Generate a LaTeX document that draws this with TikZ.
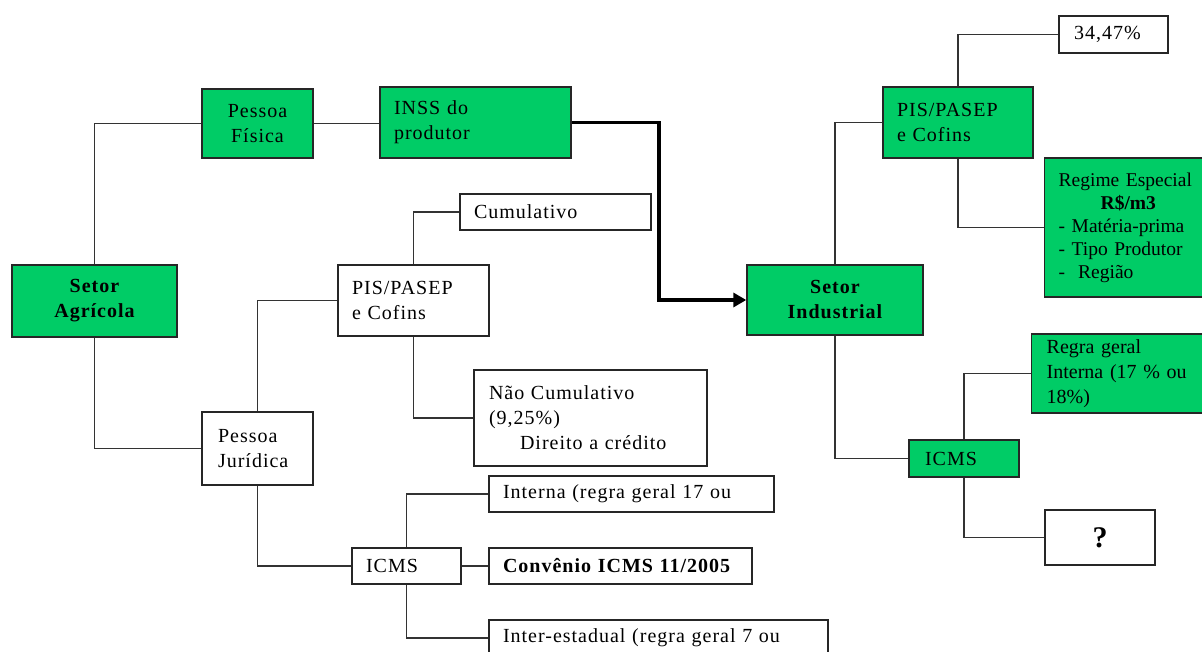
\documentclass[tikz,border=0pt]{standalone}
\usepackage{fontspec}
\setmainfont{Liberation Serif}[LetterSpace=5]
\usetikzlibrary{arrows.meta}
\definecolor{boxgreen}{RGB}{0,204,102}
\newcommand\boxfont{\fontsize{20}{25}\selectfont}
\begin{document}
\begin{tikzpicture}[x=1pt,y=-1pt,
  box/.style={draw=black!85, line width=1.4pt, font=\boxfont, inner ysep=0pt},
  gbox/.style={box, fill=boxgreen},
  wbox/.style={box, fill=white},
  link/.style={draw=black!80, line width=1.5pt},
  flow/.style={draw=black, line width=3.5pt, -{Triangle[length=13pt,width=14pt]}}]
\useasboundingbox (0,0) rectangle (1202,652);
\clip (0,0) rectangle (1202,652);
\fill[white] (0,0) rectangle (1202,652);

% left part
\node[gbox, minimum width=165pt, minimum height=72pt, align=center, font=\boxfont\bfseries] (agri) at (94.5,301) {Setor\\Agrícola};
\node[gbox, minimum width=111pt, minimum height=69pt, align=center] (pf) at (257.5,123.5) {Pessoa\\Física};
\node[gbox, minimum width=191pt, minimum height=71pt, text width=163pt, inner xsep=14pt, align=left] (inss) at (475.5,122.5) {INSS do\\produtor};
\node[wbox, minimum width=191pt, minimum height=36pt, text width=163pt, inner xsep=14pt, align=left] (cum) at (555.5,212) {Cumulativo};
\node[wbox, minimum width=151pt, minimum height=71pt, text width=123pt, inner xsep=14pt, align=left] (pisL) at (413.5,300.5) {PIS/PASEP\\e Cofins};
\node[wbox, minimum width=233pt, minimum height=96pt, text width=203pt, inner xsep=15pt, align=left] (nao) at (590.5,418) {Não Cumulativo\\(9,25\%)\\\hspace*{31pt}Direito a crédito};
\node[wbox, minimum width=111pt, minimum height=73pt, text width=79pt, inner xsep=16pt, align=left] (pj) at (257.5,448.5) {Pessoa\\Jurídica};
\node[wbox, minimum width=109pt, minimum height=36pt, text width=81pt, inner xsep=14pt, align=left] (icmsL) at (406.5,566) {ICMS};
\node[wbox, minimum width=285pt, minimum height=36pt, text width=257pt, inner xsep=14pt, align=left] (interna) at (631.5,494) {Interna (regra geral 17 ou};
\node[wbox, minimum width=263pt, minimum height=36pt, text width=235pt, inner xsep=14pt, align=left, font=\boxfont\bfseries] (conv) at (620.5,566) {Convênio ICMS 11/2005};
\node[wbox, minimum width=339pt, minimum height=36pt, text width=311pt, inner xsep=14pt, align=left] (inter) at (658.5,638) {Inter-estadual (regra geral 7 ou};

% right part
\node[gbox, minimum width=176pt, minimum height=70pt, align=center, font=\boxfont\bfseries] (indu) at (835,300) {Setor\\Industrial};
\node[gbox, minimum width=150pt, minimum height=71pt, text width=122pt, inner xsep=14pt, align=left] (pisR) at (958,122.5) {PIS/PASEP\\e Cofins};
\node[wbox, minimum width=109pt, minimum height=37pt, text width=79pt, inner xsep=15pt, align=left] (pct) at (1113.5,34.5) {34,47\%};
\node[gbox, anchor=west, minimum height=139pt, text width=170pt, inner xsep=14pt, align=left, font=\fontsize{19.5}{23}\selectfont\addfontfeature{LetterSpace=0}] (reg) at (1044,227.5) {Regime Especial\\\hspace*{42pt}\textbf{R\$/m3}\\- Matéria-prima\\- Tipo Produtor\\-\ \ Região};
\node[gbox, anchor=west, minimum height=79pt, text width=170pt, inner xsep=15pt, align=left, font=\boxfont\addfontfeature{LetterSpace=0}] (regra) at (1031,373.5) {Regra geral\\Interna (17 \% ou\\18\%)};
\node[gbox, minimum width=110pt, minimum height=37pt, text width=78pt, inner xsep=16pt, align=left] (icmsR) at (964,458.5) {ICMS};
\node[wbox, minimum width=110pt, minimum height=55pt, align=center, font=\fontsize{30}{30}\selectfont\bfseries] (q) at (1100,537.5) {?};

% connectors
\draw[link] (agri.north) |- (pf.west);
\draw[link] (agri.south) |- (pj.west);
\draw[link] (pf.east) -- (pf.east -| inss.west);
\draw[link] (pj.north) |- (pisL.west);
\draw[link] (pisL.north) |- (cum.west);
\draw[link] (pisL.south) |- (nao.west);
\draw[link] (pj.south) |- (icmsL.west);
\draw[link] (icmsL.north) |- (interna.west);
\draw[link] (icmsL.east) -- (conv.west);
\draw[link] (icmsL.south) |- (inter.west);
\draw[link] (indu.north) |- (pisR.west);
\draw[link] (pisR.north) |- (pct.west);
\draw[link] (pisR.south) |- (reg.west);
\draw[link] (indu.south) |- (icmsR.west);
\draw[link] (icmsR.north) |- (regra.west);
\draw[link] (icmsR.south) |- (q.west);

\coordinate (bend) at (659,122.5);
\draw[flow] (inss.east) -- (bend) |- (indu.west);
\end{tikzpicture}
\end{document}
